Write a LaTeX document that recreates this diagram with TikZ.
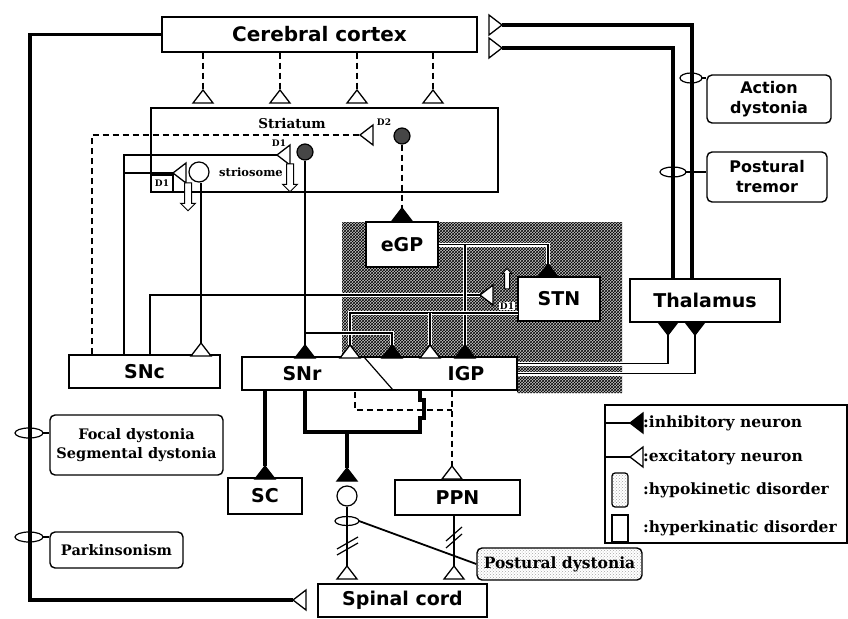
\documentclass[tikz,border=0pt]{standalone}
\usepackage{fontspec}
\setmainfont{DejaVu Sans}
\newfontfamily\labfont{DejaVu Serif}
\usetikzlibrary{arrows.meta,calc,positioning,shapes.arrows,patterns}
\newcommand{\fsz}[2]{\fontsize{#1}{#2}\selectfont}

\begin{document}
\begin{tikzpicture}[x=1pt,y=-1pt,line join=miter,
  box/.style={draw,line width=1.4pt,fill=white,inner sep=0pt,font=\bfseries\fsz{19}{21}},
  dis/.style={draw,line width=1.4pt,rounded corners=5pt,fill=white,align=center,
    inner sep=0pt,font=\labfont\bfseries\fsz{14.5}{19}},
  act/.style={dis,font=\bfseries\fsz{16}{20}},
  small/.style={inner sep=0pt,font=\labfont\bfseries\fsz{9}{9}},
  fine/.style={line width=1.2pt},
  heavy/.style={line width=3.3pt},
  dashline/.style={line width=1.5pt,dash pattern=on 6pt off 4pt},
  halo/.style={preaction={draw=white,line width=4pt}},
  cell/.style={circle,draw,fine,fill=gray!55!black,minimum size=16pt,inner sep=0pt},
  soma/.style={circle,draw,fine,fill=white,minimum size=20pt,inner sep=0pt},
  hollow/.style={single arrow,draw,fill=white,line width=1pt,minimum height=28pt,
    inner sep=3pt,single arrow head extend=4pt},
  dotty/.style={pattern=crosshatch dots,pattern color=gray!70},
  exsyn/.pic={\draw[line width=1.3pt,fill=white] (0,0)--(-10,13)--(10,13)--cycle;},
  insyn/.pic={\draw[line width=1.3pt,fill=black] (0,0)--(-10,13)--(10,13)--cycle;}]
\useasboundingbox (0,0) rectangle (848,618);

% hypokinetic area round eGP and STN
\fill[gray!45] (342,222) -- (622,222) -- (622,393) -- (517,393) -- (517,357)
  -- (342,357) -- cycle;
\fill[pattern=crosshatch,pattern color=black] (342,222) -- (622,222) -- (622,393)
  -- (517,393) -- (517,357) -- (342,357) -- cycle;

% boxes
\node[box,minimum width=315pt,minimum height=35pt,font=\bfseries\fsz{20}{22}] (cortex)
  at (319.5,34.5) {Cerebral cortex};
\node[box,minimum width=347pt,minimum height=84pt] (striatum) at (324.5,150) {};
\node[box,minimum width=72pt,minimum height=45pt] (egp) at (402,244.5) {eGP};
\node[box,minimum width=82pt,minimum height=44pt] (stn) at (559,299) {STN};
\node[box,minimum width=150pt,minimum height=43pt] (thal) at (705,300.5) {Thalamus};
\node[box,minimum width=151pt,minimum height=33pt] (snc) at (144.5,371.5) {SNc};
\node[box,minimum width=275pt,minimum height=33pt] (snrgp) at (379.5,373.5) {};
\node[font=\bfseries\fsz{19}{21}] (snr) at (302,373.5) {SNr};
\node[font=\bfseries\fsz{19}{21}] (igp) at (466,373.5) {IGP};
\draw[fine] (364,357) -- (393,390);
\node[box,minimum width=74pt,minimum height=36pt] (sc) at (265,496) {SC};
\node[box,minimum width=125pt,minimum height=35pt] (ppn) at (457.5,497.5) {PPN};
\node[box,minimum width=169pt,minimum height=33pt] (spinal) at (402.5,600.5) {Spinal cord};

% disorders
\node[act,minimum width=124pt,minimum height=48pt] (actdys) at (769,99) {Action\\dystonia};
\node[act,minimum width=120pt,minimum height=50pt] (postrem) at (767,177) {Postural\\tremor};
\node[dis,minimum width=173pt,minimum height=60pt] (focal) at (136.5,445)
  {Focal dystonia\\Segmental dystonia};
\node[dis,minimum width=133pt,minimum height=36pt] (parkin) at (116.5,550) {Parkinsonism};
\node[dis,dotty,minimum width=165pt,minimum height=32pt,font=\labfont\bfseries\fsz{15.5}{16}]
  (posdys) at (559.5,564) {Postural dystonia};

% striatum labels
\node[font=\labfont\bfseries\fsz{13.5}{14}] (strlab) at (292,123) {Striatum};
\node[font=\labfont\bfseries\fsz{11.5}{12}] (striolab) at (251,172) {striosome};
\node[draw,fine,minimum width=22pt,minimum height=17pt,small] (d1box) at (162,183.5) {D1};

% connections inside the hypokinetic area
\coordinate (stn-in) at (480,295);
\coordinate (stn-top) at (548,264);
\coordinate (egp-br) at (465,244.5);
\coordinate (igp-a) at (465,345);
\coordinate (stn-o) at (518,313);
\coordinate (stn-br) at (430,313);
\coordinate (snr-b) at (350,345);
\coordinate (igp-b) at (430,345);
\coordinate (d1br) at (305,333);
\coordinate (igp-c) at (392,345);
\coordinate (th-a) at (668,335);
\coordinate (th-b) at (695,335);
\draw[fine,halo] ([xshift=5.5pt]snc.north) |- (stn-in);
\draw[fine,halo] (egp.east) -| (stn-top);
\draw[fine,halo] (egp-br) -- (igp-a);
\draw[fine,halo] (stn-o) -| (snr-b);
\draw[fine,halo] (stn-br) -- (igp-b);
\draw[fine,halo] (d1br) -| (igp-c);
\draw[fine,halo] ([yshift=10pt]snrgp.east) -| (th-a);
\draw[fine,halo] (snrgp.east) -| (th-b);
\pic[rotate=90] at (stn-in) {exsyn};
\pic at (stn-top) {insyn};
\pic at (igp-a) {insyn};
\pic at (snr-b) {exsyn};
\pic at (igp-b) {exsyn};
\pic at (igp-c) {insyn};
\pic[rotate=180] at (th-a) {insyn};
\pic[rotate=180] at (th-b) {insyn};
\node[small,fill=white,inner sep=1pt] (d1stn) at (507,306) {D1};
\node[hollow,shape border rotate=90,minimum height=20pt,inner sep=2pt,
  single arrow head extend=2pt] (arrstn) at (507,280) {};

% cortex to striatum
\foreach \x [count=\i] in {203,280,357,433}{
  \coordinate (cs\i) at (\x,90);
  \draw[dashline] (cortex.south -| cs\i) -- (cs\i);
  \pic at (cs\i) {exsyn};
}

% thalamus to cortex
\coordinate (ctx-a) at (502,25);
\coordinate (ctx-b) at (502,48);
\draw[heavy] ([xshift=-13pt]thal.north) |- (ctx-a);
\draw[heavy] ([xshift=-32pt]thal.north) |- (ctx-b);
\pic[rotate=-90] at (ctx-a) {exsyn};
\pic[rotate=-90] at (ctx-b) {exsyn};
\coordinate (aring) at (691,78);
\coordinate (pring) at (673,172);
\draw[fine] (aring) ellipse (11pt and 5pt);
\draw[fine] ([xshift=11pt]aring) -- (actdys.west |- aring);
\draw[fine] (pring) ellipse (13pt and 5pt);
\draw[fine] ([xshift=13pt]pring) -- (postrem.west |- pring);

% cortex to spinal cord
\coordinate (spin-in) at (293,600);
\draw[heavy] (cortex.west) -| (30,600) -- (spin-in);
\pic[rotate=90] at (spin-in) {exsyn};
\coordinate (fring) at (29,433);
\coordinate (kring) at (29,537);
\draw[fine] (fring) ellipse (14pt and 5pt);
\draw[fine] ([xshift=14pt]fring) -- (focal.west |- fring);
\draw[fine] (kring) ellipse (14pt and 5pt);
\draw[fine] ([xshift=14pt]kring) -- (parkin.west |- kring);

% nigrostriatal
\coordinate (d2) at (360,135);
\coordinate (d1a) at (277,155);
\coordinate (d1b) at (173,173);
\coordinate (d1v) at (124,173);
\draw[dashline] ([xshift=-52.5pt]snc.north) |- (d2);
\pic[rotate=90] at (d2) {exsyn};
\node[small] (d2lab) at (384,122) {D2};
\draw[fine] ([xshift=-20.5pt]snc.north) |- (d1a);
\draw[fine] (d1v) -- (d1b);
\pic[rotate=90] at (d1a) {exsyn};
\pic[rotate=90] at (d1b) {exsyn};
\node[small] (d1lab) at (279,143) {D1};

% striatal outputs
\node[cell] (d2cell) at (402,136) {};
\node[cell] (d1cell) at (305,152) {};
\node[soma] (strio) at (199,172) {};
\coordinate (egp-in) at (402,208);
\coordinate (snr-in) at (305,345);
\coordinate (snc-in) at (201,343);
\draw[dashline] (d2cell.south) -- (egp-in);
\pic at (egp-in) {insyn};
\draw[fine] (d1cell.south) -- (snr-in);
\pic at (snr-in) {insyn};
\draw[fine] (strio.south -| snc-in) -- (snc-in);
\pic at (snc-in) {exsyn};
\node[hollow,shape border rotate=270] (arrd1) at (290,176) {};
\node[hollow,shape border rotate=270] (arrstr) at (188,195) {};

% output nuclei downwards
\coordinate (sc-in) at (265,466);
\draw[heavy] (snrgp.south -| sc-in) -- (sc-in);
\pic at (sc-in) {insyn};
\draw[heavy] (305,390) |- (420,432) -- (420,418) -- (424,418) -- (424,400)
  -- (420,400) -- (420,390);
\coordinate (ppn-in) at (452,466);
\draw[dashline] (355,392) |- (452,410);
\draw[dashline] (snrgp.south -| ppn-in) -- (ppn-in);
\pic at (ppn-in) {exsyn};
\coordinate (loop) at (347,432);
\coordinate (rs-in) at (347,468);
\draw[heavy] (loop) -- (rs-in);
\pic at (rs-in) {insyn};
\node[soma] (rscell) at (347,496) {};
\coordinate (sp-a) at (347,566);
\coordinate (sp-b) at (454,566);
\draw[fine] (rscell.south) -- (sp-a);
\draw[fine] (ppn.south -| sp-b) -- (sp-b);
\pic at (sp-a) {exsyn};
\pic at (sp-b) {exsyn};
\coordinate (dring) at (347,521);
\draw[fine] (dring) ellipse (12pt and 4.5pt);
\draw[line width=1.8pt] ([xshift=12pt]dring) -- (posdys.west);
\draw[fine] (337,549) -- (358,537);
\draw[fine] (337,555) -- (358,543);
\draw[fine] (446,541) -- (462,527);
\draw[fine] (446,548) -- (462,534);

% legend
\node[draw,fine,minimum width=242pt,minimum height=138pt,inner sep=0pt] (legend)
  at (726,474) {};
\coordinate (lg1) at (630,423);
\coordinate (lg2) at (630,457);
\draw[fine] (legend.west |- lg1) -- (lg1);
\pic[rotate=90] at (lg1) {insyn};
\draw[fine] (legend.west |- lg2) -- (lg2);
\pic[rotate=90] at (lg2) {exsyn};
\node[draw,fine,dotty,rounded corners=3pt,minimum width=16pt,minimum height=34pt]
  (lg3) at (620,490) {};
\node[draw,fine,minimum width=16pt,minimum height=27pt] (lg4) at (620,528.5) {};
\foreach \y/\t in {423/inhibitory neuron,457/excitatory neuron,
  490/hypokinetic disorder,528.5/hyperkinatic disorder}
  \node[anchor=west,inner sep=0pt,font=\labfont\bfseries\fsz{15.5}{16}] at (643,\y) {:\t};
\end{tikzpicture}
\end{document}
